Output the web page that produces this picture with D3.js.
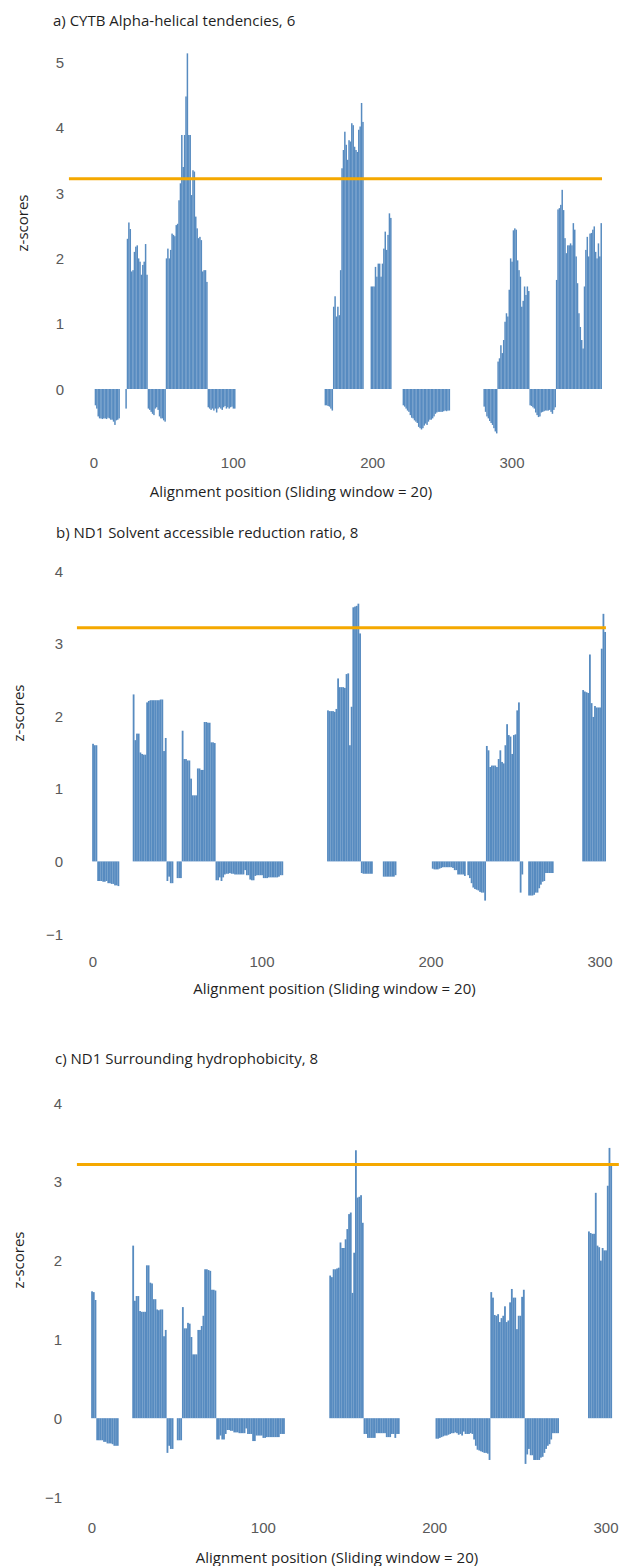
<!DOCTYPE html>
<html>
<head>
<meta charset="utf-8">
<script src="https://cdn.jsdelivr.net/npm/d3@7"></script>
<style>
  body { margin: 0; background: #fff; }
  svg { display: block; }
</style>
</head>
<body>
<svg id="chart" width="621" height="1566"></svg>
<script>
// ---------------------------------------------------------
// Data: z-scores per alignment position, as runs of
// [first position, values...]. Gaps have no run.
// ---------------------------------------------------------
var titles = ["a) CYTB Alpha-helical tendencies, 6",
              "b) ND1 Solvent accessible reduction ratio, 8",
              "c) ND1 Surrounding hydrophobicity, 8"];
var xLabel = "Alignment position (Sliding window = 20)";
var yLabel = "z-scores";
var xTicks = [0, 100, 200, 300];
var yTicksA = [0, 1, 2, 3, 4, 5];
var yTicksBC = [-1, 0, 1, 2, 3, 4];
var threshold = 3.22;

var cytbHelix = [
  [1, [-0.25,-0.3,-0.42,-0.45,-0.45,-0.46,-0.45,-0.45,-0.46,-0.44,-0.45,-0.47,-0.47,-0.5,-0.55,-0.48,-0.47,-0.45]],
  [23, [-0.3]],
  [24, [2.3,2.55,2.45,1.8,1.82,2.1,2.18,2.2,2.0,1.95,1.75,1.9,1.95,2.22,1.75]],
  [39, [-0.3,-0.32,-0.35,-0.38,-0.4,-0.3,-0.28,-0.32,-0.42,-0.45,-0.45,-0.48,-0.5]],
  [52, [2.0,2.15,2.0,2.13,2.38,2.36,2.34,2.51,2.53,2.89,3.15,3.89,3.4,3.89,4.48,5.14,3.89,3.89,2.97,3.35,
        3.33,2.64,2.46,2.31,2.33,2.28,1.8,1.82,1.82,1.64]],
  [82, [-0.28,-0.3,-0.32,-0.3,-0.33,-0.3,-0.36,-0.3,-0.28,-0.3,-0.32,-0.28,-0.26,-0.3,-0.28,-0.3,-0.28,-0.27,-0.3,-0.3]],
  [166, [-0.25,-0.25,-0.26,-0.27,-0.3,-0.33]],
  [172, [1.26,1.42,1.11,1.26,1.13,1.82,3.38,3.66,3.94,3.74,3.51,3.81,3.79,4.07,4.04,3.71,3.66,3.63,3.97,4.02,4.38,4.09]],
  [199, [1.57,1.57,1.57,1.87,1.72,1.92,1.92,1.72,1.92,2.15,2.41,2.13,2.36,2.69,2.62]],
  [222, [-0.25,-0.27,-0.3,-0.33,-0.35,-0.4,-0.44,-0.45,-0.48,-0.5,-0.52,-0.58,-0.6,-0.62,-0.6,-0.56,-0.53,
         -0.55,-0.5,-0.47,-0.47,-0.45,-0.42,-0.38,-0.36,-0.35,-0.35,-0.35,-0.35,-0.34,-0.33,-0.34,-0.33,-0.33]],
  [280, [-0.27,-0.35,-0.42,-0.45,-0.49,-0.52,-0.55,-0.6,-0.65,-0.68]],
  [290, [0.42,0.47,0.67,0.55,0.75,1.03,1.16,1.11,1.52,2.0,1.95,2.43,2.46,2.44,1.97,1.82,1.72,1.26,1.35,1.57,1.44,1.57,1.5]],
  [313, [-0.25,-0.26,-0.28,-0.3,-0.36,-0.4,-0.43,-0.42,-0.36,-0.35,-0.34,-0.33,-0.33,-0.33,-0.32,-0.35,-0.38,-0.32,-0.28]],
  [332, [1.67,2.75,2.77,2.82,3.05,2.74,2.31,2.08,2.2,2.2,2.23,2.2,2.54,2.44,2.03,1.62,1.16,0.95,0.75,0.62,
         1.57,2.13,2.33,2.03,2.38,2.39,2.44,2.49,2.1,2.0,2.23,2.03,2.54]]
];

var nd1Solvent = [
  [0, [1.62,1.6,1.6]],
  [3, [-0.27,-0.27,-0.27,-0.28,-0.28,-0.27,-0.3,-0.3,-0.31,-0.31,-0.33,-0.33,-0.34]],
  [24, [2.3,1.67,1.76,1.76,1.5,1.48,1.47,1.47,2.19,2.21,2.22,2.22,2.22,2.22,2.22,2.22,2.23,2.23,1.52,1.7]],
  [44, [-0.27,-0.21,-0.3,-0.3]],
  [50, [-0.23,-0.23,-0.23]],
  [53, [1.8,1.41,1.41,1.39,1.39,1.14,0.91,0.91,0.91,1.28,1.28,1.26,1.26,1.92,1.92,1.91,1.91,1.64,1.64,1.63]],
  [73, [-0.26,-0.26,-0.22,-0.27,-0.22,-0.18,-0.17,-0.17,-0.16,-0.17,-0.17,-0.18,-0.18,-0.18,-0.18,-0.18,-0.18,
        -0.12,-0.19,-0.19,-0.25,-0.26,-0.26,-0.2,-0.19,-0.19,-0.19,-0.19,-0.23,-0.23,-0.23,-0.22,-0.22,-0.22,
        -0.22,-0.22,-0.22,-0.21,-0.19,-0.19]],
  [139, [2.08,2.07,2.07,2.07,2.06,2.1,2.52,2.4,2.4,2.4,2.39,2.58,2.59,1.6,2.13,3.5,3.51,3.52,3.55,3.14]],
  [159, [-0.16,-0.17,-0.17,-0.17,-0.17,-0.17,-0.17]],
  [172, [-0.21,-0.21,-0.21,-0.21,-0.21,-0.21,-0.21,-0.19]],
  [201, [-0.1,-0.11,-0.11,-0.11,-0.1,-0.09,-0.08,-0.08,-0.08,-0.08,-0.08,-0.08,-0.09,-0.12,-0.12,-0.18,-0.18,
         -0.18,-0.18,-0.2]],
  [222, [-0.19,-0.23,-0.3,-0.36,-0.38,-0.39,-0.4,-0.42,-0.43,-0.43,-0.54]],
  [233, [1.59,1.53,1.3,1.32,1.32,1.32,1.3,1.41,1.53,1.37,1.35,1.6,1.89,1.74,1.72,1.48,1.74,1.75,2.08,2.19]],
  [253, [-0.43,-0.18]],
  [258, [-0.47,-0.47,-0.47,-0.46,-0.43,-0.43,-0.37,-0.32,-0.28,-0.27,-0.16,-0.16,-0.16,-0.16,-0.16]],
  [290, [2.36,2.34,2.33,2.32,2.85,2.18,1.99,2.14,2.12,2.12,2.12,2.93,3.41,3.16]]
];

var nd1Hydro = [
  [0, [1.61,1.6,1.5]],
  [3, [-0.28,-0.28,-0.28,-0.28,-0.3,-0.3,-0.32,-0.32,-0.32,-0.33,-0.35,-0.35,-0.35]],
  [24, [2.19,1.49,1.55,1.55,1.36,1.35,1.35,1.35,1.94,1.94,1.72,1.71,1.51,1.51,1.38,1.37,1.38,1.38,1.04,1.12]],
  [44, [-0.44,-0.35,-0.39,-0.39]],
  [50, [-0.28,-0.28,-0.28]],
  [53, [1.41,1.14,1.14,1.21,1.2,1.03,0.81,0.81,0.81,1.12,1.12,1.17,1.3,1.89,1.89,1.88,1.87,1.63,1.63,1.62]],
  [73, [-0.27,-0.27,-0.22,-0.27,-0.27,-0.2,-0.15,-0.15,-0.16,-0.16,-0.18,-0.18,-0.18,-0.19,-0.19,-0.19,-0.19,
        -0.13,-0.2,-0.2,-0.2,-0.29,-0.29,-0.22,-0.22,-0.22,-0.22,-0.25,-0.25,-0.24,-0.24,-0.24,-0.24,-0.24,
        -0.24,-0.24,-0.24,-0.2,-0.2,-0.2]],
  [139, [1.81,1.79,1.89,1.89,1.9,1.91,2.23,2.16,2.16,2.27,2.4,2.59,2.61,1.59,2.1,3.4,2.8,2.81,2.83,2.48]],
  [159, [-0.2,-0.2,-0.25,-0.25,-0.25,-0.25,-0.25,-0.19,-0.19,-0.19,-0.19,-0.19,-0.19,-0.24,-0.24,-0.24,-0.2,
         -0.2,-0.25,-0.2,-0.2]],
  [201, [-0.26,-0.26,-0.25,-0.24,-0.23,-0.22,-0.22,-0.21,-0.2,-0.19,-0.19,-0.18,-0.19,-0.21,-0.2,-0.22,-0.17,
         -0.2,-0.2,-0.2]],
  [221, [-0.19,-0.2,-0.27,-0.35,-0.4,-0.41,-0.42,-0.43,-0.44,-0.44,-0.45,-0.53]],
  [233, [1.6,1.53,1.31,1.3,1.32,1.22,1.27,1.3,1.42,1.22,1.24,1.47,1.64,1.53,1.53,1.13,1.3,1.3,1.54,1.63]],
  [253, [-0.58,-0.46,-0.39,-0.47,-0.47,-0.53,-0.53,-0.53,-0.53,-0.5,-0.49,-0.44,-0.39,-0.35,-0.33,-0.27,-0.19,
         -0.19,-0.19,-0.19]],
  [290, [2.37,2.35,2.34,2.34,2.86,2.19,2.17,2.0,2.16,2.13,2.13,2.95,3.43,3.21]]
];

// Extent of the threshold line, in alignment positions.
var thresholdSpan = [[-18, 364.6], [-9.5, 303.5], [-8.8, 307.5]];

/* --------------------------------------------------------- */
/* Layout of the three stacked panels (pixels).              */
/* --------------------------------------------------------- */
var layout = [
  { title: [53, 20],   xRange: [94, 512], yDomain: [0, 5],  yRange: [389, 62.5],
    yTicks: yTicksA,  tickLabelY: 462,  xLabelY: 491,  zLabel: [22, 223],   yLabelRight: 64 },
  { title: [56, 532],  xRange: [93, 600], yDomain: [-1, 4], yRange: [934, 571],
    yTicks: yTicksBC, tickLabelY: 961,  xLabelY: 988,  zLabel: [17.5, 713], yLabelRight: 63 },
  { title: [55, 1058], xRange: [92, 606], yDomain: [-1, 4], yRange: [1497, 1103],
    yTicks: yTicksBC, tickLabelY: 1527, xLabelY: 1557, zLabel: [17.5, 1260], yLabelRight: 62 }
];
var series = [cytbHelix, nd1Solvent, nd1Hydro];

var svg = d3.select("#chart");
var textFont = "'Segoe UI', 'Open Sans', 'Noto Sans', sans-serif";
var tickFont = "'Liberation Sans', Arial, sans-serif";

function flatten(runs) {
  var out = [];
  runs.forEach(function(run) {
    run[1].forEach(function(z, i) { out.push({ pos: run[0] + i, z: z }); });
  });
  return out;
}

layout.forEach(function(L, k) {
  var x = d3.scaleLinear().domain([0, 300]).range(L.xRange);
  var y = d3.scaleLinear().domain(L.yDomain).range(L.yRange);
  var g = svg.append("g");
  var bars = flatten(series[k]);

  // Title.
  g.append("text")
    .attr("x", L.title[0]).attr("y", L.title[1])
    .attr("dominant-baseline", "central")
    .style("font-family", textFont).style("font-size", "15px")
    .attr("fill", "#1f1f1f")
    .text(titles[k]);

  // Bars (no stroke; the sub-pixel seams give the fine striping).
  g.selectAll("rect.bar")
    .data(bars).enter().append("rect")
    .attr("class", "bar")
    .attr("x", function(d) { return x(d.pos - 0.5); })
    .attr("width", function(d) { return x(d.pos + 0.5) - x(d.pos - 0.5) + 0.1; })
    .attr("y", function(d) { return y(Math.max(0, d.z)); })
    .attr("height", function(d) { return Math.abs(y(d.z) - y(0)); })
    .attr("fill", "#578bc0");

  // Threshold.
  g.append("line")
    .attr("x1", x(thresholdSpan[k][0])).attr("x2", x(thresholdSpan[k][1]))
    .attr("y1", y(threshold)).attr("y2", y(threshold))
    .attr("stroke", "#f5a800").attr("stroke-width", 3);

  // Y tick labels.
  g.selectAll("text.ytick")
    .data(L.yTicks).enter().append("text")
    .attr("class", "ytick")
    .attr("x", L.yLabelRight).attr("y", function(d) { return y(d); })
    .attr("text-anchor", "end").attr("dominant-baseline", "central")
    .style("font-family", tickFont).style("font-size", "15px")
    .attr("fill", "#595959")
    .text(function(d) { return d3.format("d")(d); });

  // X tick labels.
  g.selectAll("text.xtick")
    .data(xTicks).enter().append("text")
    .attr("class", "xtick")
    .attr("x", function(d) { return x(d); }).attr("y", L.tickLabelY)
    .attr("text-anchor", "middle").attr("dominant-baseline", "central")
    .style("font-family", tickFont).style("font-size", "15px")
    .attr("fill", "#595959")
    .text(function(d) { return d; });

  // Axis titles.
  g.append("text")
    .attr("x", (L.xRange[0] + x(xTicks[3])) / 2 - 12).attr("y", L.xLabelY)
    .attr("text-anchor", "middle").attr("dominant-baseline", "central")
    .style("font-family", textFont).style("font-size", "15px")
    .attr("fill", "#1f1f1f")
    .text(xLabel);

  g.append("text")
    .attr("transform", "translate(" + L.zLabel[0] + "," + L.zLabel[1] + ") rotate(-90)")
    .attr("text-anchor", "middle").attr("dominant-baseline", "central")
    .style("font-family", textFont).style("font-size", "15px")
    .attr("fill", "#1f1f1f")
    .text(yLabel);
});
</script>
</body>
</html>
